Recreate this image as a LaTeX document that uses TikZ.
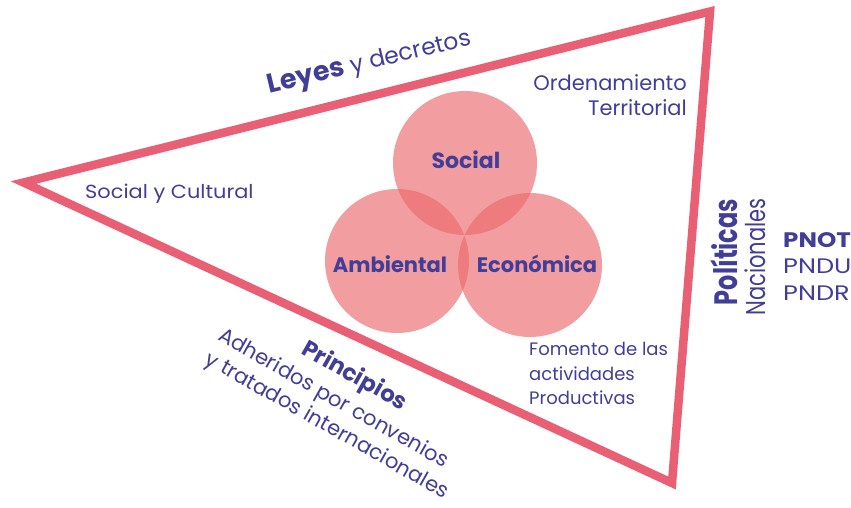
\documentclass[tikz,border=0pt]{standalone}
\usepackage{fontspec}
\setmainfont{Poppins}
\definecolor{tri}{RGB}{233,96,116}
\definecolor{circ}{RGB}{235,103,107}
\definecolor{ink}{RGB}{66,62,152}
\newcommand\myfs[1]{\fontsize{#1}{#1}\selectfont}
\newcommand\wide[2]{\scalebox{#1}[1]{#2}}
\begin{document}
\begin{tikzpicture}[x=1pt,y=-1pt,
  lbl/.style={text=ink, inner sep=0pt, font=\myfs{#1}},
  lblb/.style={text=ink, inner sep=0pt, font=\myfs{#1}\bfseries},
  venn/.style={circle, minimum size=144pt, inner sep=0pt, fill=circ, fill opacity=0.64, text opacity=1}]
\useasboundingbox (0,0) rectangle (851,507);
% triangle
\coordinate (L) at (23.5,182.5);
\coordinate (T) at (710,11.5);
\coordinate (B) at (672,483);
\draw[tri, line width=8.5pt, line join=miter] (L) -- (T) -- (B) -- cycle;
% circles
\node[venn] (soc) at (465,163) {};
\node[venn] (amb) at (397,261) {};
\node[venn] (eco) at (530,265) {};
\node[lblb=22, anchor=base] (tsoc) at (466,168) {Social};
\node[lblb=21, anchor=base] (tamb) at (390,272) {Ambiental};
\node[lblb=21, anchor=base] (teco) at (537,272) {Económica};
% top edge text
\node[lbl=23.5, anchor=base, rotate=13.5] (leyes) at (371,69) {{\bfseries\myfs{27}Leyes} y decretos};
\node[lbl=21, anchor=base east] (ord1) at (687,90) {Ordenamiento};
\node[lbl=21, anchor=base east] (ord2) at (687,115) {Territorial};
\node[lbl=19, anchor=base west] (socc) at (85,198) {\wide{1.1}{Social y Cultural}};
% bottom right
\node[lbl=18, anchor=base west] (fom1) at (529,355) {Fomento de las};
\node[lbl=18, anchor=base west] (fom2) at (529,380) {actividades};
\node[lbl=18, anchor=base west] (fom3) at (529,404) {Productivas};
% right side
\node[lblb=24, anchor=base, rotate=90] (pol) at (737,252) {\scalebox{1}[1.35]{Políticas}};
\node[lbl=21, anchor=base, rotate=90] (nac) at (765,257) {\scalebox{1}[1.3]{Nacionales}};
\node[lblb=21, anchor=base west] (pnot) at (783,247) {\wide{1.17}{PNOT}};
\node[lbl=21, anchor=base west] (pndu) at (783,273) {\wide{1.22}{PNDU}};
\node[lbl=21, anchor=base west] (pndr) at (783,300) {\wide{1.22}{PNDR}};
% principles
\node[lblb=23, anchor=base, rotate=-29.5] (prin) at (351,382) {Principios};
\node[lbl=21, anchor=base, rotate=-29.5] (adh1) at (330.5,404) {Adheridos por convenios};
\node[lbl=21, anchor=base, rotate=-29.5] (adh2) at (324,431) {y tratados internacionales};
\end{tikzpicture}
\end{document}
